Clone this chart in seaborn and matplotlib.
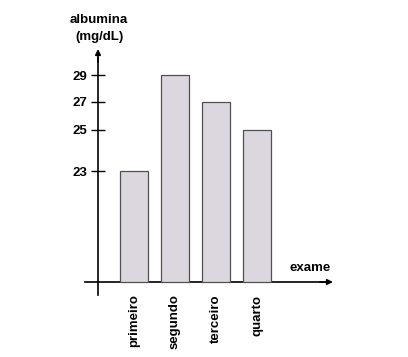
import numpy as np
import matplotlib
matplotlib.use("Agg")
import matplotlib.pyplot as plt
import seaborn as sns

# data
categories = ["primeiro", "segundo", "terceiro", "quarto"]
albumina = [23, 29, 27, 25]
ytick_values = [23, 25, 27, 29]

sns.set_theme(style="white")
plt.rcParams["font.family"] = ["Liberation Sans", "DejaVu Sans"]
plt.rcParams["font.weight"] = "bold"

# schematic (broken) y scale: piecewise linear
_vk = np.array([0.0, 23.0, 25.0, 27.0, 29.0])
_pk = np.array([0.0, 111.0, 152.0, 180.0, 207.0])
_slo = 111.0 / 23.0
_shi = 13.5


def fwd(v):
    v = np.asarray(v, dtype=float)
    out = np.interp(v, _vk, _pk)
    out = np.where(v < 0, v * _slo, out)
    out = np.where(v > 29, 207.0 + (v - 29) * _shi, out)
    return out


def inv(p):
    p = np.asarray(p, dtype=float)
    out = np.interp(p, _pk, _vk)
    out = np.where(p < 0, p / _slo, out)
    out = np.where(p > 207, 29 + (p - 207) / _shi, out)
    return out


fig = plt.figure(figsize=(4.08, 3.57), dpi=100)
ax = fig.add_axes([0, 0, 1, 1])
ax.set_facecolor("white")
ax.set_yscale("function", functions=(fwd, inv))

sns.barplot(x=categories, y=albumina, ax=ax, width=0.68, color="#dcd7de",
            edgecolor="#505050", linewidth=0.9, saturation=1, zorder=3)

ax.set_xlim(-134 / 41, (408 - 134) / 41)
ax.set_ylim(float(inv(-75)), float(inv(282)))

yx = (98 - 134) / 41
for s in ["top", "right"]:
    ax.spines[s].set_visible(False)
ax.spines["left"].set_position(("data", yx))
ax.spines["left"].set_bounds(float(inv(-13)), float(inv(224)))
ax.spines["bottom"].set_position(("data", 0))
ax.spines["bottom"].set_bounds((85 - 134) / 41, (325 - 134) / 41)
for s in ["left", "bottom"]:
    ax.spines[s].set_color("black")
    ax.spines[s].set_linewidth(1.2)
    ax.spines[s].set_zorder(2)

ax.annotate("", xy=(yx, float(inv(233))), xytext=(yx, float(inv(220))),
            arrowprops=dict(arrowstyle="-|>", color="black", lw=1.2,
                            mutation_scale=8, shrinkA=0, shrinkB=0))
ax.annotate("", xy=((333 - 134) / 41, 0), xytext=((320 - 134) / 41, 0),
            arrowprops=dict(arrowstyle="-|>", color="black", lw=1.2,
                            mutation_scale=8, shrinkA=0, shrinkB=0))

ax.set_yticks(ytick_values)
ax.set_yticklabels([str(v) for v in ytick_values], fontsize=9.5, fontweight="bold")
ax.yaxis.set_minor_locator(matplotlib.ticker.NullLocator())
ax.tick_params(axis="y", direction="inout", length=10, width=1.0,
               color="black", pad=3, left=True, labelcolor="black")
ax.tick_params(axis="x", length=0, pad=9, labelcolor="black")
ax.set_xticks(range(len(categories)))
ax.set_xticklabels(categories, rotation=90, fontsize=9.5, fontweight="bold")
ax.set_xlabel("")
ax.set_ylabel("")
ax.grid(False)

ax.text(99 / 408, 1 - 20 / 357, "albumina", transform=ax.transAxes,
        ha="center", va="center", fontsize=9.5, fontweight="bold", color="black")
ax.text(99 / 408, 1 - 37 / 357, "(mg/dL)", transform=ax.transAxes,
        ha="center", va="center", fontsize=9.5, fontweight="bold", color="black")
ax.text(310 / 408, 1 - 268 / 357, "exame", transform=ax.transAxes,
        ha="center", va="center", fontsize=9.5, fontweight="bold", color="black")

fig.savefig("out.png", dpi=100, facecolor="white")
